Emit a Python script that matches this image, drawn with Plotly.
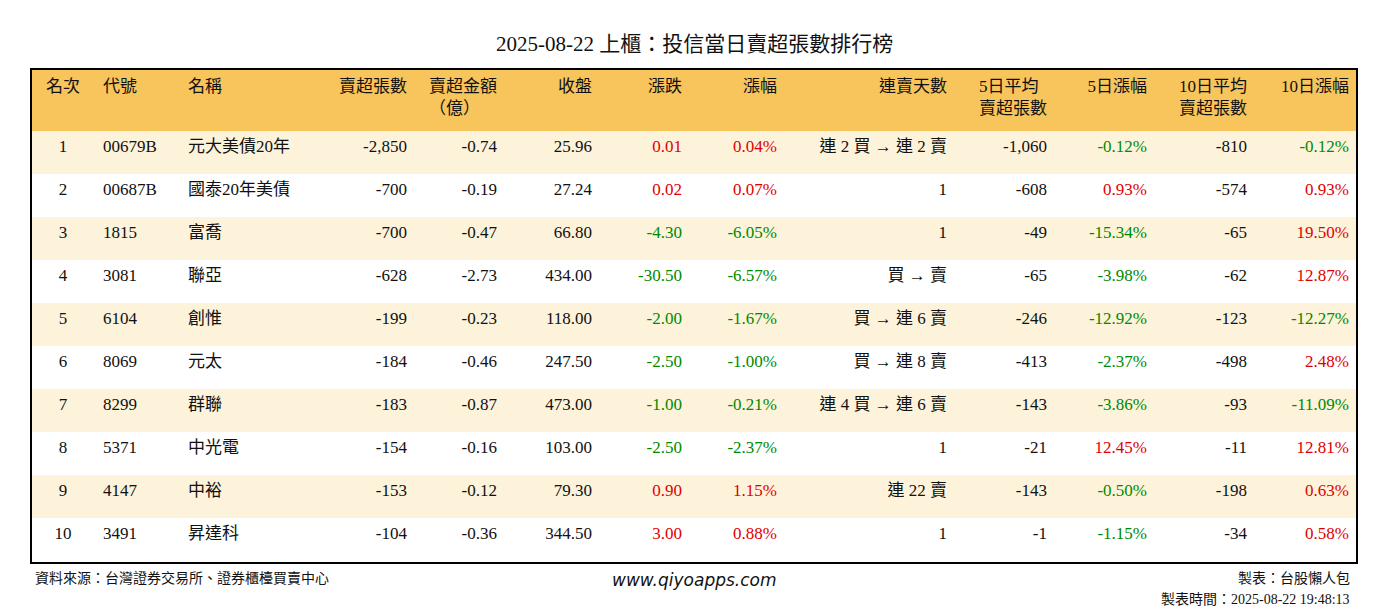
import plotly.graph_objects as go

ranks = [str(i) for i in range(1, 11)]
codes = ["00679B", "00687B", "1815", "3081", "6104", "8069", "8299", "5371", "4147", "3491"]
names = ["元大美債20年", "國泰20年美債", "富喬", "聯亞", "創惟", "元太", "群聯", "中光電", "中裕", "昇達科"]
net_sell = [-2850, -700, -700, -628, -199, -184, -183, -154, -153, -104]
amount = [-0.74, -0.19, -0.47, -2.73, -0.23, -0.46, -0.87, -0.16, -0.12, -0.36]
close = [25.96, 27.24, 66.80, 434.00, 118.00, 247.50, 473.00, 103.00, 79.30, 344.50]
change = [0.01, 0.02, -4.30, -30.50, -2.00, -2.50, -1.00, -2.50, 0.90, 3.00]
pct = [0.04, 0.07, -6.05, -6.57, -1.67, -1.00, -0.21, -2.37, 1.15, 0.88]
streak = ["連 2 買 → 連 2 賣", "1", "1", "買 → 賣", "買 → 連 6 賣", "買 → 連 8 賣",
          "連 4 買 → 連 6 賣", "1", "連 22 賣", "1"]
avg5 = [-1060, -608, -49, -65, -246, -413, -143, -21, -143, -1]
pct5 = [-0.12, 0.93, -15.34, -3.98, -12.92, -2.37, -3.86, 12.45, -0.50, -1.15]
avg10 = [-810, -574, -65, -62, -123, -498, -93, -11, -198, -34]
pct10 = [-0.12, 0.93, 19.50, 12.87, -12.27, 2.48, -11.09, 12.81, 0.63, 0.58]

headers = ["<br>名次", "<br>代號", "<br>名稱", "<br>賣超張數", "賣超金額<br>（億）", "<br>收盤", "<br>漲跌", "<br>漲幅",
           "<br>連賣天數", "5日平均<br>賣超張數", "<br>5日漲幅", "10日平均<br>賣超張數", "<br>10日漲幅"]

RED, GREEN, BLACK = "#e00000", "#008a00", "#111111"


def sign_color(vals):
    return [RED if v > 0 else GREEN for v in vals]


columns = [
    ranks, codes, names,
    [f"{v:,}" for v in net_sell],
    [f"{v:.2f}" for v in amount],
    [f"{v:.2f}" for v in close],
    [f"{v:.2f}" for v in change],
    [f"{v:.2f}%" for v in pct],
    streak,
    [f"{v:,}" for v in avg5],
    [f"{v:.2f}%" for v in pct5],
    [f"{v:,}" for v in avg10],
    [f"{v:.2f}%" for v in pct10],
]
n = len(ranks)
black = [BLACK] * n
font_colors = [black] * 6 + [sign_color(change), sign_color(pct), black, black,
                             sign_color(pct5), black, sign_color(pct10)]
aligns = ["center", "left", "left"] + ["right"] * 10
widths = [64, 85, 130, 105, 90, 95, 90, 95, 170, 100, 100, 100, 102]
row_fill = ["#fdf3da" if i % 2 == 0 else "white" for i in range(n)]

fontfam = "Liberation Serif, Noto Sans CJK TC, serif"
W, H = 1388, 612
x0, x1 = 23 / W, 1349 / W
y0, y1 = 1 - 555 / H, 1 - 61 / H

fig = go.Figure(go.Table(
    columnwidth=widths,
    domain=dict(x=[x0, x1], y=[y0, y1]),
    header=dict(values=headers, align=aligns, height=62,
                fill_color="#f8c45c", line=dict(width=0, color="#f8c45c"),
                font=dict(family=fontfam, size=17, color=BLACK)),
    cells=dict(values=columns, align=aligns, height=43,
               fill_color=[row_fill] * 13, line=dict(width=0, color="white"),
               font=dict(family=fontfam, size=17, color=font_colors)),
))

fig.add_shape(type="rect", xref="paper", yref="paper",
              x0=x0, x1=x1, y0=y0, y1=y1, line=dict(color="black", width=2))

fig.add_annotation(text="2025-08-22 上櫃：投信當日賣超張數排行榜", x=686 / W, y=1 - 36 / H,
                   xref="paper", yref="paper", yanchor="middle", showarrow=False,
                   font=dict(family=fontfam, size=21, color=BLACK))
fig.add_annotation(text="資料來源：台灣證券交易所、證券櫃檯買賣中心", x=25 / W, y=1 - 570 / H,
                   xref="paper", yref="paper", xanchor="left", yanchor="middle", showarrow=False,
                   font=dict(family=fontfam, size=14, color=BLACK))
fig.add_annotation(text="<i>www.qiyoapps.com</i>", x=686 / W, y=1 - 572 / H,
                   xref="paper", yref="paper", yanchor="middle", showarrow=False,
                   font=dict(family="DejaVu Sans, sans-serif", size=17, color=BLACK))
fig.add_annotation(text="製表：台股懶人包", x=1344 / W, y=1 - 570 / H,
                   xref="paper", yref="paper", xanchor="right", yanchor="middle", showarrow=False,
                   font=dict(family=fontfam, size=14, color=BLACK))
fig.add_annotation(text="製表時間：2025-08-22 19:48:13", x=1344 / W, y=1 - 591 / H,
                   xref="paper", yref="paper", xanchor="right", yanchor="middle", showarrow=False,
                   font=dict(family=fontfam, size=14, color=BLACK))

fig.update_layout(width=W, height=H, margin=dict(l=0, r=0, t=0, b=0),
                  paper_bgcolor="white", plot_bgcolor="white")
fig.write_html("out.html")
